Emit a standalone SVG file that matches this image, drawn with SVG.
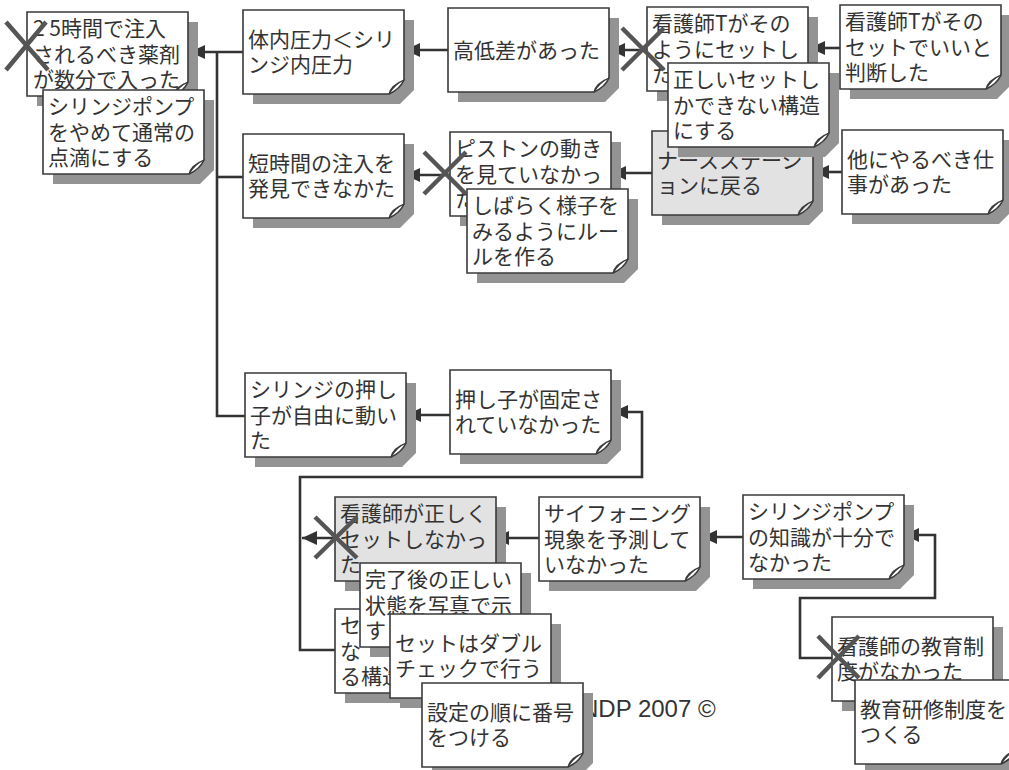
<svg xmlns="http://www.w3.org/2000/svg" xmlns:xlink="http://www.w3.org/1999/xlink" width="1009" height="770" viewBox="0 0 1009 770">
<style>
.sh{fill:#939393}
.bd{fill:#ffffff;stroke:#3a3a3a;stroke-width:1.6}
.bdg{fill:#e2e2e2;stroke:#3a3a3a;stroke-width:1.6}
.cu{fill:#ffffff;stroke:#3a3a3a;stroke-width:1.2}
.t{font-family:"Noto Sans CJK JP","Noto Sans",sans-serif;font-size:21px;fill:#333333}
.c{fill:none;stroke:#333333;stroke-width:2.6}
.a{fill:none;stroke:#333333;stroke-width:2.6;marker-end:url(#ah)}
.x{stroke:#555555;stroke-width:4.5;stroke-linecap:butt}
.cp{font-family:"Liberation Sans",Arial,sans-serif;font-size:24px;fill:#333333}
</style>
<defs>
<marker id="ah" markerUnits="userSpaceOnUse" markerWidth="16" markerHeight="14" refX="15" refY="7" orient="auto">
<path d="M0,0 L15,7 L0,14 Z" fill="#333333"/>
</marker>
<g id="card">
<path class="sh" d="M10,10 H171 V80 L157,94 H10 Z"/>
<path class="bd" d="M0,0 H161 V70 Q157,79 146,84 H0 Z"/>
<path class="cu" d="M146,84 Q148,75 161,70 Q152,74 146,84 Z"/>
</g>
<g id="cardg">
<path class="sh" d="M10,10 H171 V80 L157,94 H10 Z"/>
<path class="bdg" d="M0,0 H161 V70 Q157,79 146,84 H0 Z"/>
<path class="cu" d="M146,84 Q148,75 161,70 Q152,74 146,84 Z"/>
</g>
</defs>
<rect width="1009" height="770" fill="#ffffff"/>

<g id="connectors">
<path class="c" d="M217,52 V416 H245"/>
<path class="c" d="M217,177 H243"/>
<path class="a" d="M243,52 H190"/>
<path class="a" d="M448,50 H405"/>
<path class="a" d="M647,50 H610"/>
<path class="a" d="M840,48 H810"/>
<path class="a" d="M450,175 H405"/>
<path class="a" d="M652,173 H611"/>
<path class="a" d="M842,172 H814"/>
<path class="a" d="M450,415 H406"/>
<path class="a" d="M539,538 H494"/>
<path class="a" d="M743,537 H702"/>
<path class="a" d="M335,538 H302"/>
<path class="a" d="M335,650 H300 V477 H642 V412 H613"/>
<path class="a" d="M832,658 H800 V598 H935 V535 H904"/>
</g>

<g id="n1" transform="translate(27,12)"><use xlink:href="#card"/><text class="t"><tspan x="6" y="24">2 5時間で注入</tspan><tspan x="6" y="49.5">されるべき薬剤</tspan><tspan x="6" y="75">が数分で入った</tspan></text></g>
<g id="n2" transform="translate(43,90)"><use xlink:href="#card"/><text class="t"><tspan x="5" y="24">シリンジポンプ</tspan><tspan x="5" y="49.5">をやめて通常の</tspan><tspan x="5" y="75">点滴にする</tspan></text></g>
<g id="n3" transform="translate(243,10)"><use xlink:href="#card"/><text class="t"><tspan x="5" y="36.75">体内圧力＜シリ</tspan><tspan x="5" y="62.25">ンジ内圧力</tspan></text></g>
<g id="n4" transform="translate(243,134)"><use xlink:href="#card"/><text class="t"><tspan x="5" y="36.75">短時間の注入を</tspan><tspan x="5" y="62.25">発見できなかた</tspan></text></g>
<g id="n5" transform="translate(448,8)"><use xlink:href="#card"/><text class="t"><tspan x="5" y="49.5">高低差があった</tspan></text></g>
<g id="n6" transform="translate(647,7)"><use xlink:href="#card"/><text class="t"><tspan x="5" y="24">看護師Tがその</tspan><tspan x="5" y="49.5">ようにセットし</tspan><tspan x="5" y="75">た</tspan></text></g>
<g id="n8" transform="translate(840,5)"><use xlink:href="#card"/><text class="t"><tspan x="5" y="24">看護師Tがその</tspan><tspan x="5" y="49.5">セットでいいと</tspan><tspan x="5" y="75">判断した</tspan></text></g>
<g id="n10" transform="translate(652,131)"><use xlink:href="#cardg"/><text class="t"><tspan x="5" y="36.75">ナースステーシ</tspan><tspan x="5" y="62.25">ョンに戻る</tspan></text></g>
<g id="n7" transform="translate(668,63)"><use xlink:href="#card"/><text class="t"><tspan x="5" y="24">正しいセットし</tspan><tspan x="5" y="49.5">かできない構造</tspan><tspan x="5" y="75">にする</tspan></text></g>
<g id="n11" transform="translate(842,130)"><use xlink:href="#card"/><text class="t"><tspan x="5" y="36.75">他にやるべき仕</tspan><tspan x="5" y="62.25">事があった</tspan></text></g>
<g id="n9" transform="translate(450,132)"><use xlink:href="#card"/><text class="t"><tspan x="5" y="24">ピストンの動き</tspan><tspan x="5" y="49.5">を見ていなかっ</tspan><tspan x="5" y="75">た</tspan></text></g>
<g id="n12" transform="translate(467,189)"><use xlink:href="#card"/><text class="t"><tspan x="5" y="24">しばらく様子を</tspan><tspan x="5" y="49.5">みるようにルー</tspan><tspan x="5" y="75">ルを作る</tspan></text></g>
<g id="n13" transform="translate(245,373)"><use xlink:href="#card"/><text class="t"><tspan x="5" y="24">シリンジの押し</tspan><tspan x="5" y="49.5">子が自由に動い</tspan><tspan x="5" y="75">た</tspan></text></g>
<g id="n14" transform="translate(450,370)"><use xlink:href="#card"/><text class="t"><tspan x="5" y="36.75">押し子が固定さ</tspan><tspan x="5" y="62.25">れていなかった</tspan></text></g>
<g id="n16" transform="translate(539,497)"><use xlink:href="#card"/><text class="t"><tspan x="5" y="24">サイフォニング</tspan><tspan x="5" y="49.5">現象を予測して</tspan><tspan x="5" y="75">いなかった</tspan></text></g>
<g id="n22" transform="translate(743,495)"><use xlink:href="#card"/><text class="t"><tspan x="5" y="24">シリンジポンプ</tspan><tspan x="5" y="49.5">の知識が十分で</tspan><tspan x="5" y="75">なかった</tspan></text></g>
<g id="n15" transform="translate(335,497)"><use xlink:href="#cardg"/><text class="t"><tspan x="5" y="24">看護師が正しく</tspan><tspan x="5" y="49.5">セットしなかっ</tspan><tspan x="5" y="75">た</tspan></text></g>
<g id="n18" transform="translate(335,609)"><use xlink:href="#card"/><text class="t"><tspan x="5" y="24">セ</tspan><tspan x="5" y="49.5">な</tspan><tspan x="5" y="75">る構造</tspan></text></g>
<g id="n17" transform="translate(360,563)"><use xlink:href="#card"/><text class="t"><tspan x="5" y="24">完了後の正しい</tspan><tspan x="5" y="49.5">状態を写真で示</tspan><tspan x="5" y="75">す</tspan></text></g>
<g id="n19" transform="translate(390,614)"><use xlink:href="#card"/><text class="t"><tspan x="5" y="36.75">セットはダブル</tspan><tspan x="5" y="62.25">チェックで行う</tspan></text></g>
<text class="cp" x="581" y="717">NDP 2007 ©</text>
<g id="n20" transform="translate(422,683)"><use xlink:href="#card"/><text class="t"><tspan x="5" y="36.75">設定の順に番号</tspan><tspan x="5" y="62.25">をつける</tspan></text></g>
<g id="n23" transform="translate(832,617)"><use xlink:href="#card"/><text class="t"><tspan x="5" y="36.75">看護師の教育制</tspan><tspan x="5" y="62.25">度がなかった</tspan></text></g>
<g id="n24" transform="translate(855,680)"><use xlink:href="#card"/><text class="t"><tspan x="5" y="36.75">教育研修制度を</tspan><tspan x="5" y="62.25">つくる</tspan></text></g>

<g id="cuts">
<path class="x" d="M6,22 L48,70 M46,22 L6,70"/>
<path class="x" d="M622,28 L664,70 M664,28 L622,70"/>
<path class="x" d="M424,152 L466,194 M466,152 L424,194"/>
<path class="x" d="M315,517 L357,558 M357,517 L315,558"/>
<path class="x" d="M818,636 L859,678 M859,636 L818,678"/>
</g>
</svg>
